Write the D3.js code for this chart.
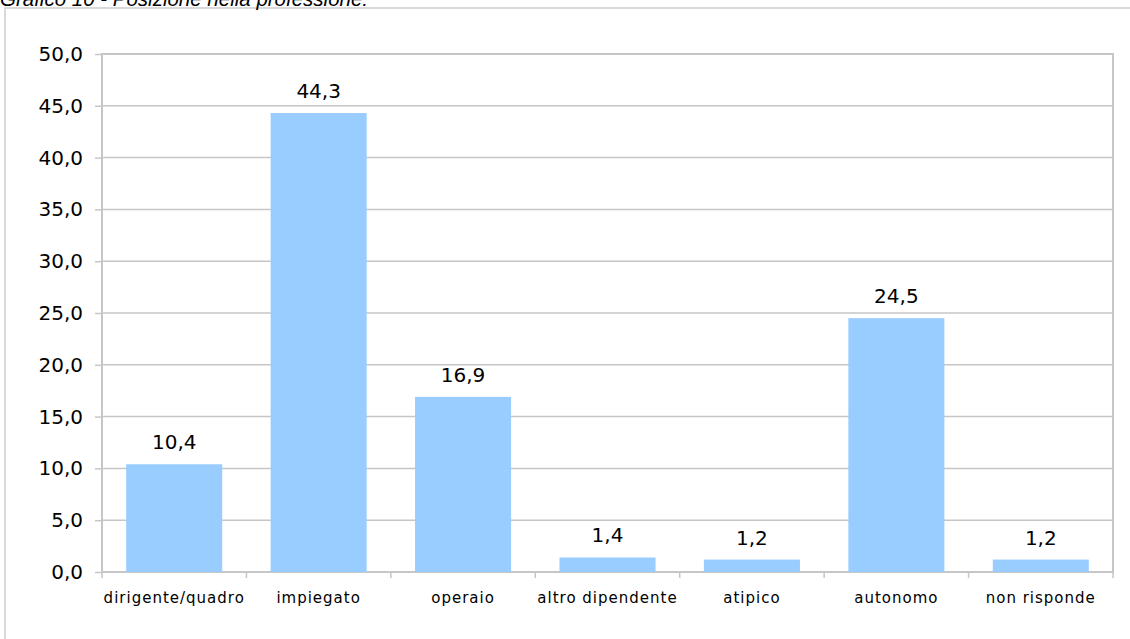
<!DOCTYPE html>
<html>
<head>
<meta charset="utf-8">
<script src="https://cdn.jsdelivr.net/npm/d3@7"></script>
<style>
    body { margin: 0; background: #fff; }
    svg { display: block; }
</style>
</head>
<body>
<svg id="chart" width="1130" height="639"></svg>
<script>
const categories = ['dirigente/quadro', 'impiegato', 'operaio', 'altro dipendente', 'atipico', 'autonomo', 'non risponde'];
const values = [10.4, 44.3, 16.9, 1.4, 1.2, 24.5, 1.2];
const yTicks = [0, 5, 10, 15, 20, 25, 30, 35, 40, 45, 50];
const title = 'Grafico 10 - Posizione nella professione:';

const margens = { left: 102, right: 17, top: 54, bottom: 67 };
const svg = d3.select('#chart');
const width = 1130, height = 639;
const innerWidth = width - margens.left - margens.right;
const innerHeight = height - margens.top - margens.bottom;
const fmt = v => v.toFixed(1).replace('.', ',');
const font = 'DejaVu Sans, Verdana, sans-serif';

// ---- cornice esterna e titolo
svg.append('rect')
    .attr('x', 5).attr('y', 8)
    .attr('width', 1140).attr('height', 660)
    .attr('fill', 'none').attr('stroke', '#d9d9d9').attr('stroke-width', 2);

svg.append('text')
    .attr('x', 0).attr('y', 5.5)
    .attr('font-family', 'Liberation Sans, Arial, sans-serif')
    .attr('font-style', 'italic')
    .attr('font-size', '20.5px').attr('fill', '#000')
    .text(title);

const x = d3.scaleBand()
    .domain(categories)
    .range([0, innerWidth])
    .paddingInner(0.335).paddingOuter(0.1675);

const y = d3.scaleLinear()
    .domain([0, 50])
    .range([innerHeight, 0]);

const g = svg.append('g')
    .attr('transform', `translate(${margens.left}, ${margens.top})`);

// griglia
g.selectAll('.grid')
    .data(yTicks).join('line')
    .attr('class', 'grid')
    .attr('x1', 0).attr('x2', innerWidth)
    .attr('y1', d => y(d)).attr('y2', d => y(d))
    .attr('stroke', '#c6c6c6').attr('stroke-width', 1.5);

// bordo area grafico
g.append('rect')
    .attr('width', innerWidth).attr('height', innerHeight)
    .attr('fill', 'none').attr('stroke', '#c6c6c6').attr('stroke-width', 2);

// asse y
g.append('g')
    .call(d3.axisLeft(y).tickValues(yTicks).tickSize(7).tickPadding(12).tickFormat(fmt))
    .call(a => a.select('.domain').remove())
    .call(a => a.selectAll('line').attr('stroke', '#c6c6c6').attr('stroke-width', 1.5))
    .call(a => a.selectAll('text')
        .attr('font-family', font)
        .attr('font-size', '20px').attr('fill', '#000'));

// asse x: tacche ai bordi delle categorie
const edges = d3.range(categories.length + 1).map(i => i * x.step());
g.selectAll('.xtick')
    .data(edges).join('line')
    .attr('class', 'xtick')
    .attr('x1', d => d).attr('x2', d => d)
    .attr('y1', innerHeight).attr('y2', innerHeight + 6)
    .attr('stroke', '#c6c6c6').attr('stroke-width', 1.5);

g.selectAll('.xlabel')
    .data(categories).join('text')
    .attr('class', 'xlabel')
    .attr('x', d => x(d) + x.bandwidth() / 2)
    .attr('y', innerHeight + 31)
    .attr('text-anchor', 'middle')
    .attr('font-family', font)
    .attr('font-size', '15px').attr('letter-spacing', '1px').attr('fill', '#000')
    .text(d => d);

// barre
g.selectAll('.bar')
    .data(values).join('rect')
    .attr('class', 'bar')
    .attr('x', (d, i) => x(categories[i]))
    .attr('y', d => y(d))
    .attr('width', x.bandwidth())
    .attr('height', d => y(0) - y(d))
    .attr('fill', '#99ccff');

g.selectAll('.bar-label')
    .data(values).join('text')
    .attr('class', 'bar-label')
    .attr('x', (d, i) => x(categories[i]) + x.bandwidth() / 2)
    .attr('y', d => y(d) - 15)
    .attr('text-anchor', 'middle')
    .attr('font-family', font)
    .attr('font-size', '20px').attr('fill', '#000')
    .text(fmt);
</script>
</body>
</html>
